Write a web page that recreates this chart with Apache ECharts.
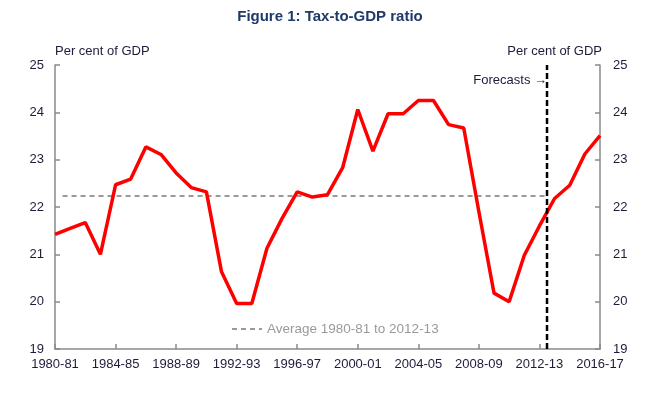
<!DOCTYPE html>
<html>
<head>
<meta charset="utf-8">
<script src="https://cdn.jsdelivr.net/npm/echarts@6/dist/echarts.min.js"></script>
<style>html,body{margin:0;padding:0;background:#fff}#c{width:660px;height:399px}</style>
</head>
<body>
<div id="c"></div>
<script>
var years = ['1980-81','1981-82','1982-83','1983-84','1984-85','1985-86','1986-87','1987-88','1988-89','1989-90',
 '1990-91','1991-92','1992-93','1993-94','1994-95','1995-96','1996-97','1997-98','1998-99','1999-00',
 '2000-01','2001-02','2002-03','2003-04','2004-05','2005-06','2006-07','2007-08','2008-09','2009-10',
 '2010-11','2011-12','2012-13','2013-14','2014-15','2015-16','2016-17'];
var taxToGdp = [21.42,21.55,21.67,21.0,22.47,22.59,23.27,23.11,22.72,22.41,
 22.32,20.63,19.96,19.96,21.13,21.76,22.32,22.21,22.26,22.83,
 24.06,23.18,23.97,23.97,24.25,24.25,23.74,23.67,21.9,20.18,
 20.0,20.98,21.6,22.18,22.46,23.12,23.51];
var averageValue = 22.23;
var averageSpan = [0.5, 32.5];      // in year-index units
var forecastStart = 32.5;           // between 2012-13 and 2013-14
var yTicks = [19, 20, 21, 22, 23, 24, 25];

var lineData = taxToGdp.map(function(v, i){ return [i, v]; });
var avgData = averageSpan.map(function(x){ return [x, averageValue]; });
var fcData = [[forecastStart, yTicks[0]], [forecastStart, yTicks[yTicks.length-1]]];

var font = '"Liberation Sans", Arial, sans-serif';
var axisCol = '#8a8a8a';
var txtCol = '#1c1c3a';
var chart = echarts.init(document.getElementById('c'));
chart.setOption({
  animation: false,
  textStyle: {fontFamily: font},
  title: {
    text: 'Figure 1: Tax-to-GDP ratio', left: 'center', top: 4,
    textStyle: {fontFamily: font, fontSize: 15, fontWeight: 'bold', color: '#1f3a68'}
  },
  legend: {
    data: ['Average 1980-81 to 2012-13'], left: 226, top: 317,
    itemWidth: 30, itemHeight: 10, itemGap: 3,
    itemStyle: {opacity: 0},
    textStyle: {fontFamily: font, fontSize: 13.5, color: '#9a9a9a'}
  },
  grid: {left: 55, right: 60, top: 65, bottom: 50},
  xAxis: {
    type: 'value', min: 0, max: years.length - 1, interval: 4,
    axisLine: {show: true, lineStyle: {color: axisCol, width: 1.5}},
    axisTick: {show: true, inside: true, length: 5, lineStyle: {color: axisCol, width: 1.5}},
    splitLine: {show: false},
    axisLabel: {
      color: txtCol, fontSize: 13, margin: 9, fontFamily: font,
      formatter: function(v){ return years[Math.round(v)] || ''; }
    }
  },
  yAxis: [{
    type: 'value', min: yTicks[0], max: yTicks[yTicks.length-1], interval: 1, position: 'left',
    name: 'Per cent of GDP', nameLocation: 'end', nameGap: 7,
    nameTextStyle: {align: 'left', color: txtCol, fontSize: 13, fontFamily: font},
    axisLine: {show: true, lineStyle: {color: axisCol, width: 1.5}},
    axisTick: {show: true, inside: true, length: 5, lineStyle: {color: axisCol, width: 1.5}},
    splitLine: {show: false},
    axisLabel: {color: txtCol, fontSize: 13, margin: 11, fontFamily: font}
  }, {
    type: 'value', min: yTicks[0], max: yTicks[yTicks.length-1], interval: 1, position: 'right',
    name: 'Per cent of GDP', nameLocation: 'end', nameGap: 7,
    nameTextStyle: {align: 'right', color: txtCol, fontSize: 13, fontFamily: font, padding: [0, -2, 0, 0]},
    axisLine: {show: true, lineStyle: {color: axisCol, width: 1.5}},
    axisTick: {show: true, inside: true, length: 5, lineStyle: {color: axisCol, width: 1.5}},
    splitLine: {show: false},
    axisLabel: {color: txtCol, fontSize: 13, margin: 13, fontFamily: font}
  }],
  series: [{
    name: 'Average 1980-81 to 2012-13', type: 'line', data: avgData, symbol: 'none', z: 1,
    lineStyle: {color: '#9a9a9a', width: 2, type: [5, 4]},
    itemStyle: {color: '#9a9a9a'}
  }, {
    name: 'Tax-to-GDP', type: 'line', data: lineData, symbol: 'none', z: 3,
    lineStyle: {color: '#ff0000', width: 3.5}
  }, {
    name: 'Forecasts', type: 'line', data: fcData, symbol: 'none', z: 4,
    lineStyle: {color: '#000000', width: 2.5, type: [6, 3]}
  }],
  graphic: [{
    type: 'text', right: 660 - 547, top: 74,
    style: {text: 'Forecasts \u2192', font: '13px ' + font, fill: txtCol}
  }]
});
</script>
</body>
</html>
